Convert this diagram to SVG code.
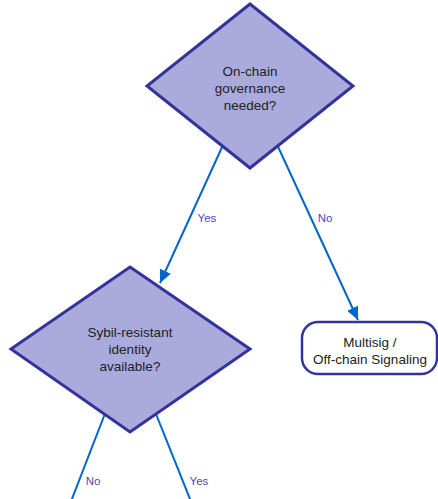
<svg xmlns="http://www.w3.org/2000/svg" width="438" height="499" viewBox="0 0 438 499">
<defs>
<marker id="arrow" markerUnits="userSpaceOnUse" markerWidth="14" markerHeight="12" refX="13" refY="6" orient="auto">
<path d="M0,0 L13,6 L0,12 Z" fill="#0066cc"/>
</marker>
<style>
.edge{stroke:#0066cc;stroke-width:2;fill:none}
.dec{fill:#aaaadd;stroke:#333399;stroke-width:3}
.term{fill:#ffffff;stroke:#333399;stroke-width:2.5}
.t{font-family:"Liberation Sans",Arial,sans-serif;font-size:13.5px;fill:#222222;text-anchor:middle}
.lbl{font-family:"Liberation Sans",Arial,sans-serif;font-size:11.5px;fill:#4a4ab8;text-anchor:middle}
</style>
</defs>
<rect width="438" height="499" fill="#ffffff"/>
<g id="connectors">
<line class="edge" x1="250" y1="86" x2="160" y2="283" marker-end="url(#arrow)"/>
<line class="edge" x1="250" y1="86" x2="358" y2="320" marker-end="url(#arrow)"/>
<line class="edge" x1="130" y1="349" x2="70" y2="504"/>
<line class="edge" x1="130" y1="349" x2="192" y2="504"/>
<text class="lbl" x="207" y="222">Yes</text>
<text class="lbl" x="325" y="222">No</text>
<text class="lbl" x="93" y="485">No</text>
<text class="lbl" x="199" y="485">Yes</text>
</g>
<g id="q1">
<polygon class="dec" points="250,4 353,86 250,168 147,86"/>
<text class="t" x="250" y="76">On-chain</text>
<text class="t" x="250" y="93">governance</text>
<text class="t" x="250" y="110">needed?</text>
</g>
<g id="q2">
<polygon class="dec" points="130,267 250,349 130,432 11,349"/>
<text class="t" x="130" y="337">Sybil-resistant</text>
<text class="t" x="130" y="354">identity</text>
<text class="t" x="130" y="371">available?</text>
</g>
<g id="multisig">
<rect class="term" x="302" y="322" width="135" height="52" rx="16" ry="16"/>
<text class="t" x="370" y="347">Multisig /</text>
<text class="t" x="370" y="364">Off-chain Signaling</text>
</g>
</svg>
